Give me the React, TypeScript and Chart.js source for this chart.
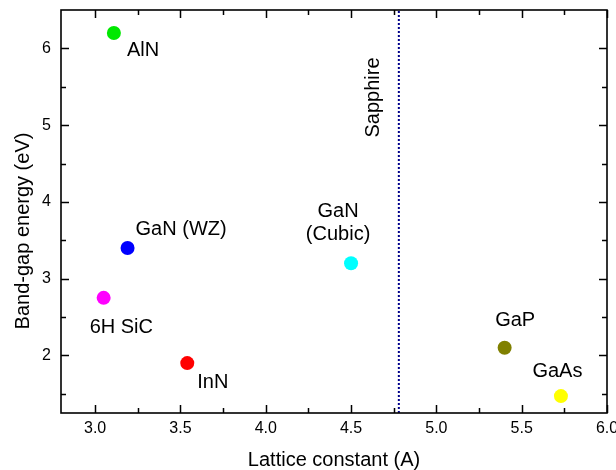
import React, { useEffect, useRef } from "react";
import { Chart, registerables } from "chart.js";

Chart.register(...registerables);

// ---- data ----
const materials = ["AlN", "GaN (WZ)", "6H SiC", "InN", "GaN (Cubic)", "GaP", "GaAs"];
const latticeConstants = [3.11, 3.19, 3.05, 3.54, 4.5, 5.4, 5.73];
const bandGaps = [6.2, 3.4, 2.75, 1.9, 3.2, 2.1, 1.47];
const pointColors = ["#00e800", "#0000ff", "#ff00ff", "#ff0000", "#00ffff", "#808000", "#ffff00"];
const sapphireLattice = 4.78;
const sapphireLabel = "Sapphire";
const xTitle = "Lattice constant (A)";
const yTitle = "Band-gap energy (eV)";
const xRange = [2.8, 6.0];
const yRange = [1.25, 6.5];
const xMajorTicks = [3.0, 3.5, 4.0, 4.5, 5.0, 5.5, 6.0];
const xMinorTicks = [3.25, 3.75, 4.25, 4.75, 5.25, 5.75];
const yMajorTicks = [2, 3, 4, 5, 6];
const yMinorTicks = [1.5, 2.5, 3.5, 4.5, 5.5];

// ---- label placement (pixel offsets from the marker, style only) ----
const labelOffsets: { dx: number; dy: number; align: CanvasTextAlign }[] = [
  { dx: 13, dy: 23, align: "left" },
  { dx: 8, dy: -13, align: "left" },
  { dx: -14, dy: 35, align: "left" },
  { dx: 10, dy: 25, align: "left" },
  { dx: -13, dy: -46, align: "center" },
  { dx: -9.5, dy: -22, align: "left" },
  { dx: -28.5, dy: -19, align: "left" },
];

const FONT = '"Liberation Sans", Arial, Helvetica, sans-serif';

const framePlugin = {
  id: "frameAndLabels",
  afterDatasetsDraw(chart: any) {
    const { ctx, chartArea: a, scales } = chart;
    const xs = scales.x;
    const ys = scales.y;
    ctx.save();
    ctx.strokeStyle = "#000";
    ctx.lineWidth = 1.6;
    ctx.strokeRect(a.left, a.top, a.right - a.left, a.bottom - a.top);
    ctx.lineWidth = 1.5;
    const tickX = (v: number, len: number) => {
      const p = Math.round(xs.getPixelForValue(v)) + 0.5;
      ctx.beginPath();
      ctx.moveTo(p, a.bottom);
      ctx.lineTo(p, a.bottom - len);
      ctx.moveTo(p, a.top);
      ctx.lineTo(p, a.top + len);
      ctx.stroke();
    };
    const tickY = (v: number, len: number) => {
      const p = Math.round(ys.getPixelForValue(v)) + 0.5;
      ctx.beginPath();
      ctx.moveTo(a.left, p);
      ctx.lineTo(a.left + len, p);
      ctx.moveTo(a.right, p);
      ctx.lineTo(a.right - len, p);
      ctx.stroke();
    };
    xMajorTicks.forEach((v) => tickX(v, 8));
    xMinorTicks.forEach((v) => tickX(v, 5));
    yMajorTicks.forEach((v) => tickY(v, 8));
    yMinorTicks.forEach((v) => tickY(v, 5));

    ctx.fillStyle = "#000";
    ctx.font = `20px ${FONT}`;
    ctx.textBaseline = "alphabetic";
    materials.forEach((name, i) => {
      const px = xs.getPixelForValue(latticeConstants[i]);
      const py = ys.getPixelForValue(bandGaps[i]);
      const o = labelOffsets[i];
      ctx.textAlign = o.align;
      const m = name.match(/^(\S+) (\(Cubic\))$/);
      if (m) {
        ctx.fillText(m[1], px + o.dx, py + o.dy);
        ctx.fillText(m[2], px + o.dx, py + o.dy + 23);
      } else {
        ctx.fillText(name, px + o.dx, py + o.dy);
      }
    });

    // axis titles
    ctx.textAlign = "center";
    ctx.fillText(xTitle, (a.left + a.right) / 2, 466);
    ctx.save();
    ctx.translate(28.5, 231);
    ctx.rotate(-Math.PI / 2);
    ctx.fillText(yTitle, 0, 0);
    ctx.restore();

    // sapphire label
    const sx = xs.getPixelForValue(sapphireLattice);
    const sy = ys.getPixelForValue(5.36);
    ctx.translate(sx - 20, sy);
    ctx.rotate(-Math.PI / 2);
    ctx.textAlign = "center";
    ctx.textBaseline = "alphabetic";
    ctx.fillText(sapphireLabel, 0, 0);
    ctx.restore();
  },
};

export default function App() {
  const ref = useRef<HTMLCanvasElement>(null);
  useEffect(() => {
    document.body.style.margin = "0";
    const chart = new Chart(ref.current as HTMLCanvasElement, {
      type: "scatter",
      data: {
        datasets: [
          {
            type: "line",
            data: [
              { x: sapphireLattice, y: yRange[0] },
              { x: sapphireLattice, y: yRange[1] },
            ],
            borderColor: "#00008b",
            borderWidth: 2,
            borderDash: [2, 2],
            pointRadius: 0,
            fill: false,
          } as any,
          {
            data: latticeConstants.map((x, i) => ({ x, y: bandGaps[i] })),
            pointBackgroundColor: pointColors,
            pointBorderWidth: 0,
            pointRadius: 7,
            pointHoverRadius: 7,
          },
        ],
      },
      plugins: [framePlugin],
      options: {
        responsive: false,
        animation: false,
        events: [],
        layout: { padding: { top: 10, right: 9, left: 0, bottom: 0 } },
        plugins: { legend: { display: false }, tooltip: { enabled: false } },
        scales: {
          x: {
            type: "linear",
            min: xRange[0],
            max: xRange[1],
            afterBuildTicks: (s: any) => {
              s.ticks = xMajorTicks.map((v) => ({ value: v }));
            },
            ticks: {
              color: "#000",
              font: { family: FONT, size: 16 },
              padding: 6,
              maxRotation: 0,
              callback: (v: any) => Number(v).toFixed(1),
            },
            grid: { display: false, drawTicks: false, tickLength: 0 },
            border: { display: false },
            title: { display: false },
            afterFit: (s: any) => {
              s.height = 57;
              s.paddingLeft = 0;
              s.paddingRight = 0;
            },
          },
          y: {
            type: "linear",
            min: yRange[0],
            max: yRange[1],
            afterBuildTicks: (s: any) => {
              s.ticks = yMajorTicks.map((v) => ({ value: v }));
            },
            ticks: {
              color: "#000",
              font: { family: FONT, size: 16 },
              padding: 10,
              callback: (v: any) => String(v),
            },
            grid: { display: false, drawTicks: false, tickLength: 0 },
            border: { display: false },
            title: { display: false },
            afterFit: (s: any) => {
              s.width = 61;
              s.paddingTop = 0;
              s.paddingBottom = 0;
            },
          },
        },
      },
    });
    return () => chart.destroy();
  }, []);
  return (
    <div style={{ position: "absolute", left: 0, top: 0, width: 616, height: 470 }}>
      <canvas ref={ref} width={616} height={470} />
    </div>
  );
}
